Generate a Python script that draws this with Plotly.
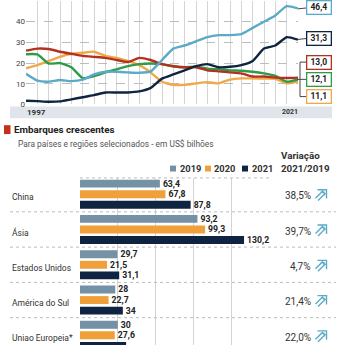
import plotly.graph_objects as go

# ---------------- data ----------------
years = [1997, 1998, 1999, 2000, 2001, 2002, 2003, 2004, 2005, 2006, 2007, 2008, 2009,
         2010, 2011, 2012, 2013, 2014, 2015, 2016, 2017, 2018, 2019, 2020, 2021]
s_teal = [14.8, 11.5, 11.0, 11.8, 11.3, 12.0, 14.5, 15.8, 15.8, 15.5, 15.3, 16.0, 21.5,
          27.0, 28.5, 30.5, 32.5, 33.5, 33.5, 34.0, 37.0, 40.0, 43.0, 47.5, 46.4]
s_navy = [1.8, 1.6, 1.3, 1.5, 2.5, 3.5, 4.5, 5.8, 5.8, 5.8, 6.3, 8.0, 12.5,
          14.5, 16.5, 18.5, 19.5, 18.0, 18.2, 19.0, 21.0, 27.0, 28.5, 32.5, 31.3]
s_orange = [17.5, 19.0, 21.0, 23.0, 24.5, 25.0, 25.5, 23.5, 22.5, 21.0, 19.0, 15.5, 11.0,
            9.5, 9.5, 10.2, 10.8, 10.2, 12.0, 12.6, 12.6, 12.5, 12.4, 10.2, 11.1]
s_green = [24.3, 24.2, 19.8, 20.0, 18.0, 12.7, 13.7, 15.5, 17.0, 18.5, 19.5, 19.8, 19.5,
           18.5, 18.0, 18.3, 17.3, 17.0, 16.5, 16.3, 15.8, 15.0, 13.8, 11.0, 12.1]
s_red = [26.0, 27.0, 26.8, 25.5, 24.5, 23.5, 23.0, 22.5, 21.5, 20.5, 22.5, 21.5, 19.5,
         18.5, 18.0, 18.0, 16.5, 16.0, 15.5, 15.0, 13.5, 13.5, 13.0, 12.8, 13.0]
end_labels = ["46,4", "31,3", "13,0", "12,1", "11,1"]

categories = ["China", "Ásia", "Estados Unidos", "América do Sul", "Uniao Europeia*"]
v2019 = [63.4, 93.2, 29.7, 28, 30]
v2020 = [67.8, 99.3, 21.5, 22.7, 27.6]
v2021 = [87.8, 130.2, 31.1, 34, 36.6]
variacao = ["38,5%", "39,7%", "4,7%", "21,4%", "22,0%"]

C_TEAL = "#5aaac8"
C_NAVY = "#0f2440"
C_ORANGE = "#f0a848"
C_GREEN = "#2f9a4a"
C_RED = "#b3321f"
C_B19 = "#7491a5"
C_B20 = "#f0a03a"
C_B21 = "#0f2440"
FONT = "Roboto"

W = H = 350


def px(x):
    return x / W


def py(y):
    return 1 - y / H


def fmt(v):
    s = f"{v:.1f}"
    if s.endswith(".0"):
        s = s[:-2]
    return s.replace(".", ",")


fig = go.Figure()

# ---------------- top line chart ----------------
for ser, col in [(s_orange, C_ORANGE), (s_green, C_GREEN), (s_red, C_RED),
                 (s_teal, C_TEAL), (s_navy, C_NAVY)]:
    fig.add_trace(go.Scatter(x=years, y=ser, mode="lines",
                             line=dict(color=col, width=2.4, shape="spline", smoothing=0.5),
                             xaxis="x", yaxis="y", showlegend=False, hoverinfo="skip"))

# ---------------- bar chart ----------------
idx = list(range(len(categories)))
for vals, col, name in [(v2019, C_B19, "2019"), (v2020, C_B20, "2020"), (v2021, C_B21, "2021")]:
    fig.add_trace(go.Bar(y=idx, x=vals, orientation="h", marker=dict(color=col, line=dict(width=0)),
                         text=[fmt(v) for v in vals], textposition="outside",
                         textfont=dict(family=FONT, size=8.7, color="#222", weight="bold"),
                         constraintext="none", cliponaxis=False,
                         xaxis="x2", yaxis="y2", name=name, showlegend=False, hoverinfo="skip"))

shapes = []
ann = []

# band under the line chart
shapes.append(dict(type="rect", xref="paper", yref="paper", x0=px(10), x1=px(332),
                   y0=py(120), y1=py(108), fillcolor="#dfe5ea", line=dict(width=0), layer="below"))
ann.append(dict(text="<b>1997</b>", xref="paper", yref="paper", x=px(25), y=py(114),
                xanchor="left", yanchor="middle", showarrow=False,
                font=dict(family=FONT, size=8, color="#333")))
ann.append(dict(text="<b>2021</b>", xref="paper", yref="paper", x=px(300), y=py(114),
                xanchor="right", yanchor="middle", showarrow=False,
                font=dict(family=FONT, size=7, color="#333")))

# end label boxes
box_y = [8, 39, 63, 80.5, 98]
box_col = [C_TEAL, C_NAVY, C_RED, C_GREEN, C_ORANGE]
for lab, yy, col in zip(end_labels, box_y, box_col):
    ann.append(dict(text="<b>" + lab + "</b>", xref="paper", yref="paper", x=px(318.5), y=py(yy),
                    xanchor="center", yanchor="middle", showarrow=False,
                    font=dict(family=FONT, size=8.5, color="#222"),
                    bgcolor="white", bordercolor=col, borderwidth=1.3, borderpad=1.5,
                    width=20, height=9))
# connectors
conn = "#444"
shapes.append(dict(type="line", xref="paper", yref="paper", x0=px(298), x1=px(307),
                   y0=py(9), y1=py(8), line=dict(color=conn, width=1)))
shapes.append(dict(type="line", xref="paper", yref="paper", x0=px(298), x1=px(307),
                   y0=py(40), y1=py(39), line=dict(color=conn, width=1)))
shapes.append(dict(type="line", xref="paper", yref="paper", x0=px(300), x1=px(300),
                   y0=py(63), y1=py(98), line=dict(color=conn, width=1)))
for yy in [63, 98, 80.5]:
    shapes.append(dict(type="line", xref="paper", yref="paper", x0=px(300 if yy != 80.5 else 297),
                       x1=px(307), y0=py(yy), y1=py(yy), line=dict(color=conn, width=1)))

# title section
shapes.append(dict(type="rect", xref="paper", yref="paper", x0=px(4), x1=px(10.5),
                   y0=py(136), y1=py(127), fillcolor="#c4301c", line=dict(width=0)))
ann.append(dict(text="<b>Embarques crescentes</b>", xref="paper", yref="paper", x=px(12), y=py(131.5),
                xanchor="left", yanchor="middle", showarrow=False,
                font=dict(family=FONT, size=9.8, color="#222")))
ann.append(dict(text="Para países e regiões selecionados - em US$ bilhões", xref="paper", yref="paper",
                x=px(16), y=py(146.5), xanchor="left", yanchor="middle", showarrow=False,
                font=dict(family=FONT, size=8.4, color="#555")))
ann.append(dict(text="<b>Variação</b>", xref="paper", yref="paper", x=px(279), y=py(157.5),
                xanchor="left", yanchor="middle", showarrow=False,
                font=dict(family=FONT, size=9.8, color="#333")))
ann.append(dict(text="<b>2021/2019</b>", xref="paper", yref="paper", x=px(279), y=py(170.5),
                xanchor="left", yanchor="middle", showarrow=False,
                font=dict(family=FONT, size=9.8, color="#333")))
for xx, col, name in [(170, C_B19, "2019"), (205, C_B20, "2020"), (242, C_B21, "2021")]:
    shapes.append(dict(type="rect", xref="paper", yref="paper", x0=px(xx), x1=px(xx + 6),
                       y0=py(174), y1=py(168), fillcolor=col, line=dict(width=0)))
    ann.append(dict(text="<b>" + name + "</b>", xref="paper", yref="paper", x=px(xx + 7.5), y=py(171),
                    xanchor="left", yanchor="middle", showarrow=False,
                    font=dict(family=FONT, size=9.3, color="#333")))

# bar-chart separators and labels
top_px, group_pitch, first_center = 180.5, 35.8, 197.0
y2_top = (top_px - first_center) / group_pitch
y2_bot = (350 - first_center) / group_pitch

shapes.append(dict(type="line", xref="paper", yref="paper", x0=px(80), x1=px(269),
                   y0=py(top_px), y1=py(top_px), line=dict(color="#bbbbbb", width=1, dash="dot")))
for k in range(len(categories) - 1):
    shapes.append(dict(type="line", xref="paper", yref="y2", x0=px(10), x1=px(336),
                       y0=k + 0.5, y1=k + 0.5, line=dict(color="#bbbbbb", width=1, dash="dot")))


def arrow_path(cx, cy):
    pts_sets = [
        [(-3.5, -5.5), (5.5, -5.5), (5.5, 3.5)],      # outer head
        [(-0.5, -3.0), (3.0, -3.0), (3.0, 0.5)],      # inner head
        [(-5.5, 3.0), (2.0, -4.5)],                    # shaft 1
        [(-3.0, 5.5), (4.5, -2.0)],                    # shaft 2
    ]
    d = ""
    for pts in pts_sets:
        for i, (ox, oy) in enumerate(pts):
            d += ("M" if i == 0 else "L") + f"{px(cx + ox):.5f},{py(cy + oy):.5f} "
    return d.strip()


for k, (cat, var) in enumerate(zip(categories, variacao)):
    ann.append(dict(text=cat, xref="paper", yref="y2", x=px(10), y=k + 0.08,
                    xanchor="left", yanchor="middle", showarrow=False,
                    font=dict(family=FONT, size=8.5, color="#333")))
    ann.append(dict(text=var, xref="paper", yref="y2", x=px(312.5), y=k + 0.05,
                    xanchor="right", yanchor="middle", showarrow=False,
                    font=dict(family=FONT, size=10, color="#333")))
    cy = first_center + k * group_pitch + 1
    shapes.append(dict(type="path", xref="paper", yref="paper", path=arrow_path(321, cy),
                       line=dict(color=C_TEAL, width=1.4)))

fig.update_layout(
    width=W, height=H, margin=dict(l=0, r=0, t=0, b=0),
    paper_bgcolor="white", plot_bgcolor="white",
    barmode="group", bargap=0.1, bargroupgap=0.25,
    font=dict(family=FONT),
    xaxis=dict(domain=[px(26), px(298)], range=[1997, 2021], dtick=1, tick0=1997,
               showgrid=True, gridcolor="#d4d4d4", gridwidth=1, showticklabels=False,
               zeroline=False, showline=False, anchor="y"),
    yaxis=dict(domain=[py(106), py(1)], range=[0, 50], dtick=10, showgrid=True,
               gridcolor="#bdbdbd", griddash="dash", gridwidth=1, zeroline=False,
               tickfont=dict(family=FONT, size=8, color="#444"), ticks="", anchor="x"),
    xaxis2=dict(domain=[px(80), px(269)], range=[0, 150], dtick=30, showgrid=True,
                gridcolor="#d4d4d4", gridwidth=1, showticklabels=False, zeroline=False,
                showline=False, anchor="y2"),
    yaxis2=dict(domain=[0, py(top_px)], range=[y2_bot, y2_top], showgrid=False,
                showticklabels=False, zeroline=False, anchor="x2"),
    shapes=shapes, annotations=ann,
)

fig.write_html("out.html")
